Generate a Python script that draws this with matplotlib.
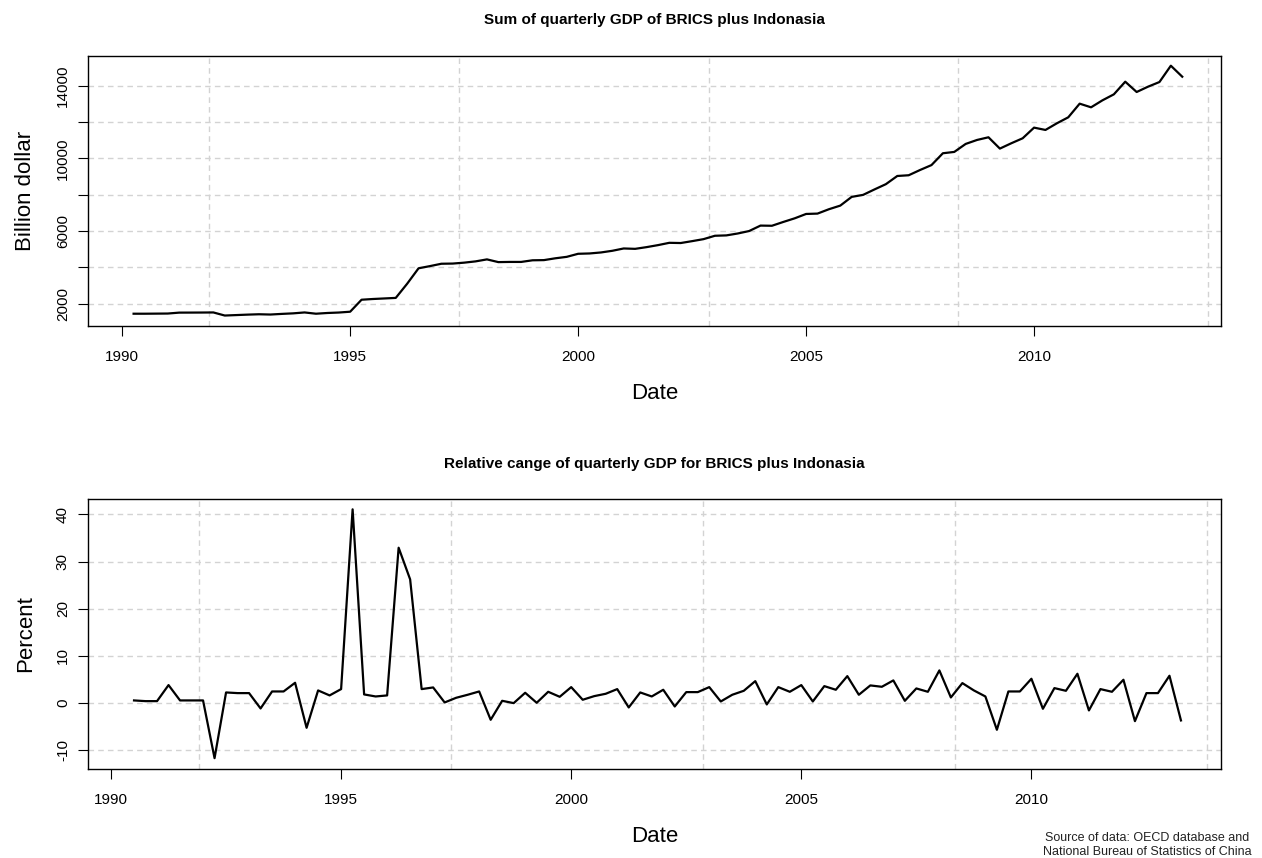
import matplotlib
matplotlib.use("Agg")
import matplotlib.pyplot as plt
import numpy as np

plt.rcParams['font.family'] = ['Liberation Sans', 'DejaVu Sans']

# quarterly GDP sum (billion dollar), 1990 Q2 .. 2013 Q2
gdp_start = 1990.25
gdp = [
    1450, 1450, 1455, 1460, 1510, 1512, 1515, 1520,
    1350, 1375, 1400, 1420, 1405, 1440, 1470, 1520,
    1450, 1490, 1515, 1560, 2220, 2260, 2290, 2320,
    3100, 3950, 4070, 4200, 4210, 4260, 4330, 4440,
    4290, 4300, 4300, 4390, 4400, 4500, 4580, 4748,
    4766, 4821, 4913, 5041, 5020, 5114, 5224, 5352,
    5340, 5444, 5554, 5740, 5760, 5865, 6000, 6300,
    6290, 6500, 6700, 6940, 6960, 7200, 7400, 7880,
    7990, 8290, 8580, 9030, 9070, 9360, 9630, 10281,
    10354, 10794, 11013, 11160, 10537, 10830, 11105, 11691,
    11563, 11929, 12259, 13010, 12809, 13194, 13523, 14219,
    13652, 13945, 14201, 15099, 14494,
]

# relative change (percent), 1990 Q3 .. 2013 Q2
pct_start = 1990.5
pct = [
    0.57, 0.42, 0.42, 3.82, 0.57, 0.57, 0.57, -11.66,
    2.26, 2.12, 2.12, -1.13, 2.47, 2.47, 4.31, -5.23,
    2.69, 1.63, 2.97, 41.06, 1.84, 1.41, 1.63, 32.93,
    26.22, 2.97, 3.32, 0.14, 1.13, 1.77, 2.47, -3.53,
    0.49, 0.0, 2.19, 0.07, 2.40, 1.34, 3.39, 0.71,
    1.48, 1.98, 2.97, -0.92, 2.26, 1.41, 2.83, -0.71,
    2.33, 2.33, 3.39, 0.35, 1.77, 2.61, 4.66, -0.28,
    3.39, 2.40, 3.82, 0.35, 3.60, 2.83, 5.72, 1.77,
    3.75, 3.46, 4.81, 0.49, 3.11, 2.40, 6.93, 1.20,
    4.24, 2.69, 1.41, -5.65, 2.47, 2.47, 5.16, -1.20,
    3.18, 2.61, 6.22, -1.55, 2.97, 2.40, 4.95, -3.82,
    2.12, 2.12, 5.80, -3.67,
]

year_ticks = [1990, 1995, 2000, 2005, 2010]
vgrid = [1991.91, 1997.39, 2002.87, 2008.34, 2013.82]

gdp_dates = gdp_start + 0.25 * np.arange(len(gdp))
pct_dates = pct_start + 0.25 * np.arange(len(pct))

fig = plt.figure(figsize=(12.62, 8.58), dpi=100)
ax1 = fig.add_axes([88 / 1262, 1 - 326 / 858, 1133 / 1262, 270 / 858])
ax2 = fig.add_axes([88 / 1262, 1 - 769 / 858, 1133 / 1262, 270 / 858])


def style(ax, yticks, ylabels):
    for v in vgrid:
        ax.axvline(v, color='#d3d3d3', lw=1, ls=(0, (4, 3)), zorder=0)
    for y in yticks:
        ax.axhline(y, color='#d3d3d3', lw=1, ls=(0, (4, 3)), zorder=0)
    ax.set_xticks(year_ticks)
    ax.set_xticklabels([str(y) for y in year_ticks])
    ax.set_yticks(yticks)
    ax.set_yticklabels(ylabels, rotation=90, va='center')
    ax.tick_params(axis='both', direction='out', length=7, width=0.8,
                   labelsize=11, color='black')
    ax.tick_params(axis='x', pad=10)
    ax.tick_params(axis='y', pad=6)
    for s in ax.spines.values():
        s.set_linewidth(1.0)
        s.set_color('black')
    ax.set_xlabel('Date', fontsize=16, labelpad=14)


ax1.plot(gdp_dates, gdp, color='black', lw=1.6)
ax1.set_xlim(1989.25, 2014.1)
ax1.set_ylim(774, 15633)
gdp_ticks = [2000, 4000, 6000, 8000, 10000, 12000, 14000]
style(ax1, gdp_ticks, [str(t) if t in (2000, 6000, 10000, 14000) else '' for t in gdp_ticks])
ax1.set_ylabel('Billion dollar', fontsize=16, labelpad=14)
ax1.set_title('Sum of quarterly GDP of BRICS plus Indonasia', fontsize=11,
              fontweight='bold', pad=23)

ax2.plot(pct_dates, pct, color='black', lw=1.6)
ax2.set_xlim(1989.5, 2014.12)
ax2.set_ylim(-13.96, 43.25)
pct_ticks = [-10, 0, 10, 20, 30, 40]
style(ax2, pct_ticks, [str(t) for t in pct_ticks])
ax2.set_ylabel('Percent', fontsize=16, labelpad=14)
ax2.set_title('Relative cange of quarterly GDP for BRICS plus Indonasia',
              fontsize=11, fontweight='bold', pad=22)

fig.text(1147 / 1262, 1 - 845 / 858,
         'Source of data: OECD database and\nNational Bureau of Statistics of China',
         ha='center', va='center', fontsize=9, color='#222222', linespacing=1.25)

fig.savefig('out.png', dpi=100)
